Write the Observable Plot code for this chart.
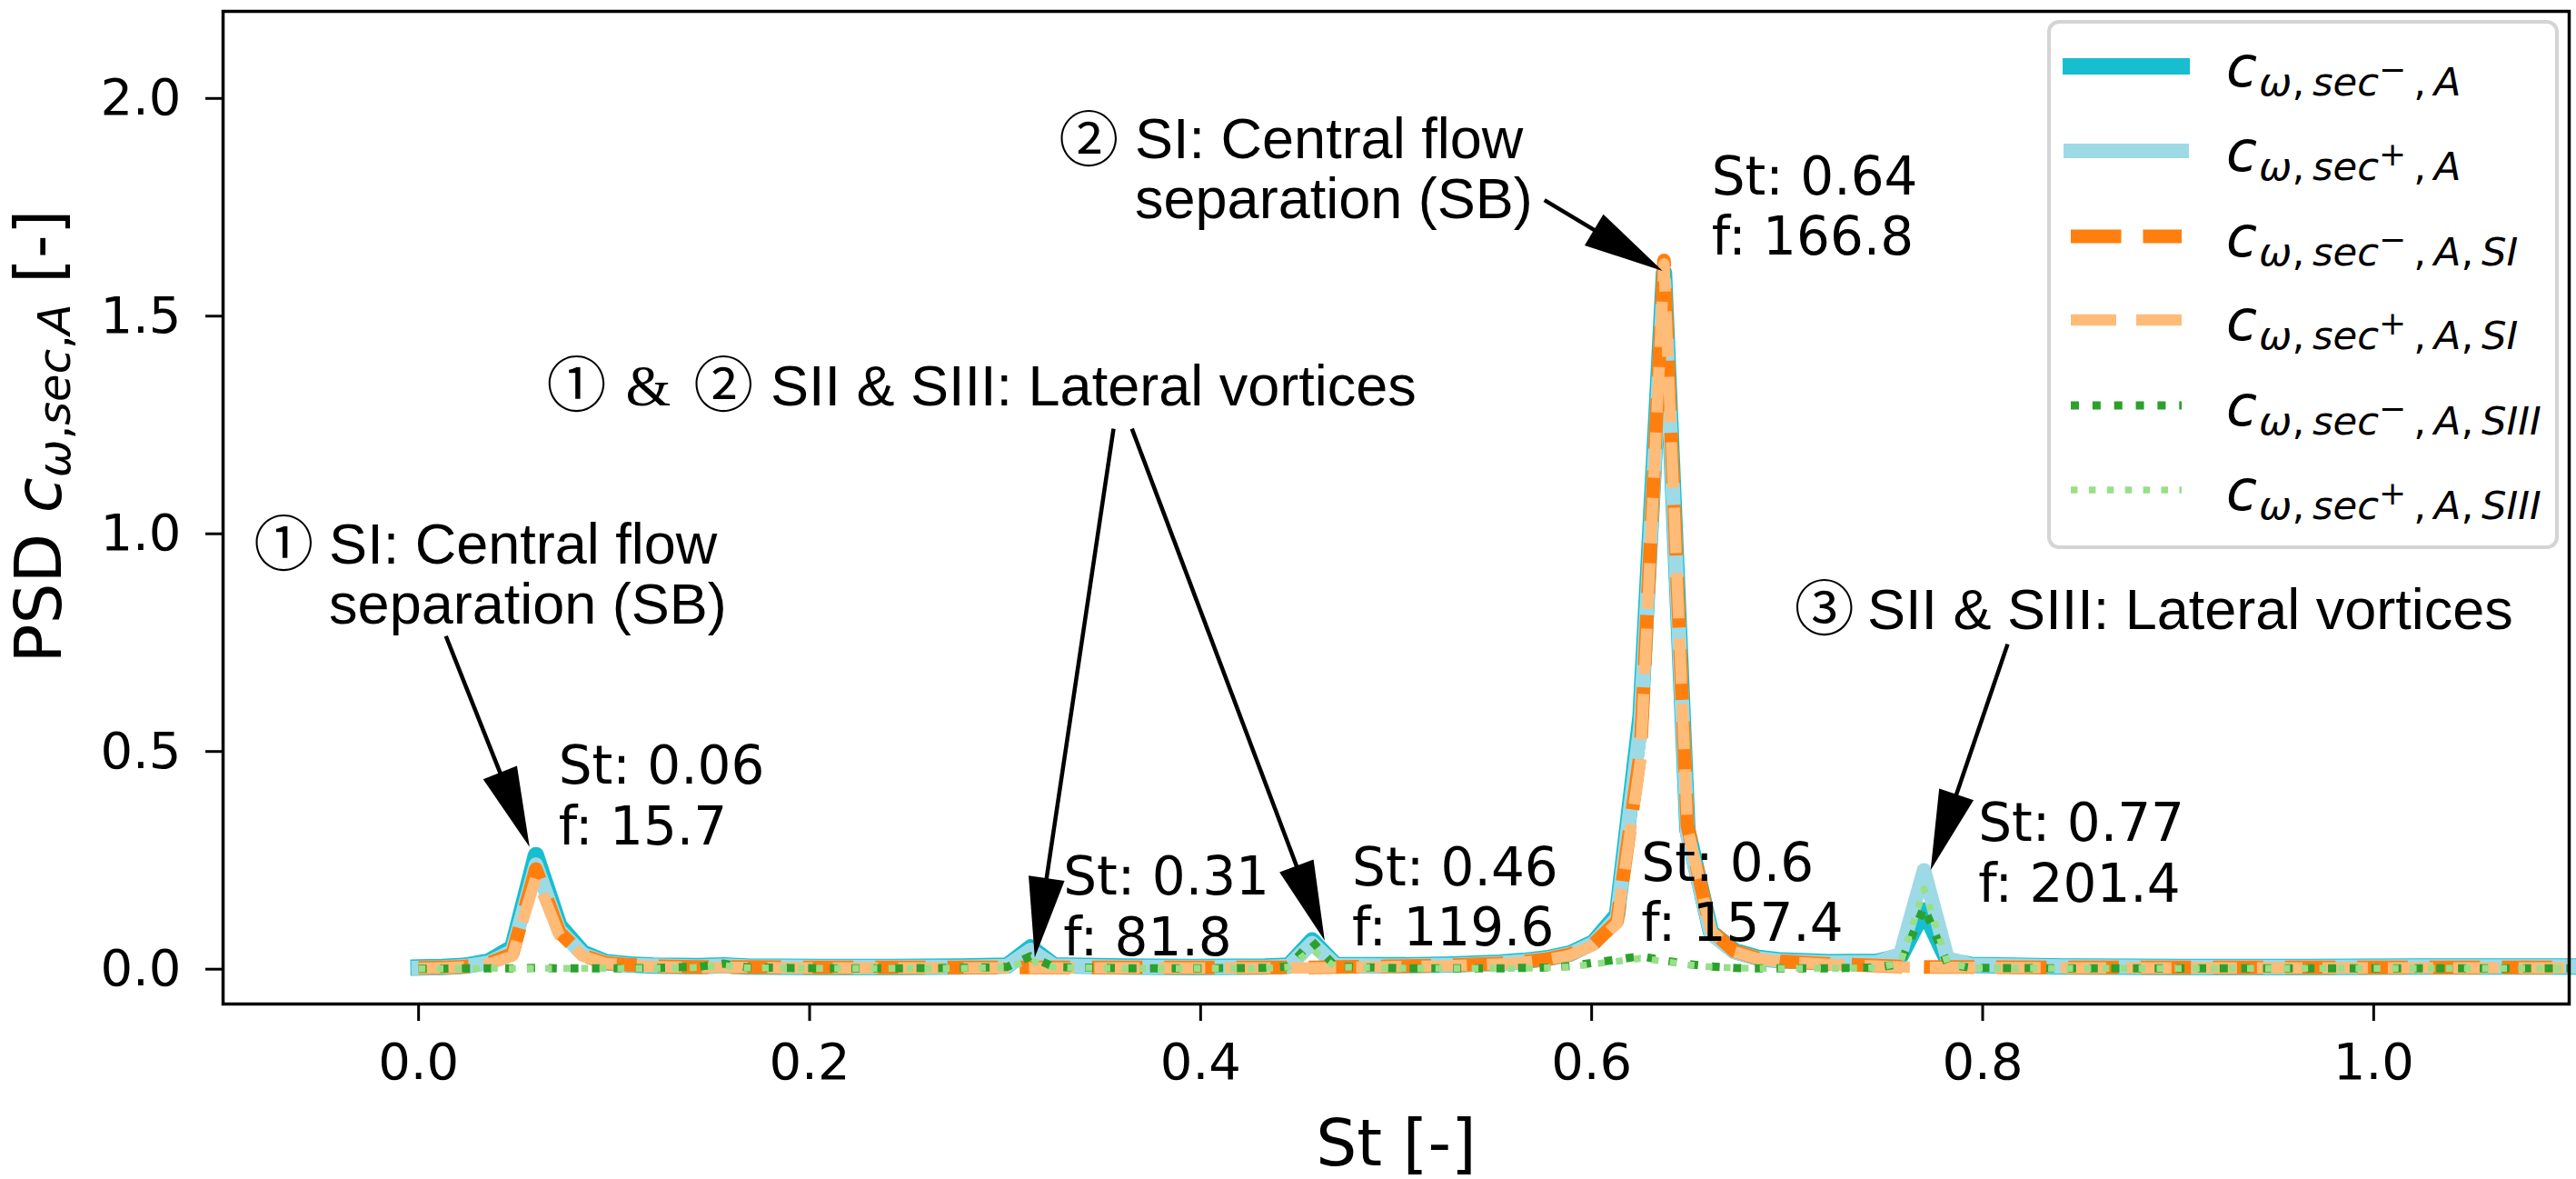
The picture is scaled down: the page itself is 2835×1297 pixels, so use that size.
<!DOCTYPE html>
<html>
<head>
<meta charset="utf-8">
<script src="https://cdn.jsdelivr.net/npm/d3@7"></script>
<script src="https://cdn.jsdelivr.net/npm/@observablehq/plot@0.6"></script>
<style>
html, body { margin: 0; padding: 0; background: #fff; }
#wrap { position: relative; width: 2835px; height: 1297px; }
#wrap svg.overlay { position: absolute; left: 0; top: 0; pointer-events: none; }
</style>
</head>
<body>
<div id="wrap"></div>
<script>
// ---------------- data ----------------
const st = [0.000, 0.012, 0.024, 0.036, 0.048, 0.060, 0.072, 0.084, 0.096, 0.108,
            0.120, 0.144, 0.156, 0.168, 0.204, 0.241, 0.277, 0.301, 0.313, 0.325,
            0.361, 0.397, 0.433, 0.445, 0.457, 0.469, 0.505, 0.529, 0.553, 0.565,
            0.577, 0.589, 0.601, 0.613, 0.625, 0.637, 0.649, 0.661, 0.673, 0.685,
            0.697, 0.722, 0.746, 0.758, 0.770, 0.782, 0.794, 0.842, 0.902, 0.962,
            1.022, 1.100];

const secMinusA = [0.004, 0.005, 0.008, 0.018, 0.050, 0.262, 0.100, 0.038, 0.016, 0.011,
                   0.008, 0.007, 0.009, 0.006, 0.005, 0.005, 0.006, 0.008, 0.050, 0.009,
                   0.006, 0.005, 0.006, 0.008, 0.066, 0.010, 0.009, 0.011, 0.015, 0.019,
                   0.025, 0.036, 0.062, 0.125, 0.580, 1.600, 0.320, 0.085, 0.042, 0.026,
                   0.020, 0.016, 0.017, 0.030, 0.135, 0.020, 0.010, 0.006, 0.005, 0.005,
                   0.006, 0.006];

const secPlusA = [0.003, 0.004, 0.007, 0.015, 0.042, 0.240, 0.090, 0.034, 0.015, 0.010,
                  0.008, 0.006, 0.008, 0.006, 0.005, 0.005, 0.005, 0.007, 0.044, 0.008,
                  0.005, 0.005, 0.005, 0.007, 0.060, 0.009, 0.008, 0.010, 0.014, 0.018,
                  0.024, 0.035, 0.060, 0.118, 0.560, 1.580, 0.310, 0.082, 0.040, 0.025,
                  0.019, 0.015, 0.016, 0.035, 0.227, 0.025, 0.010, 0.006, 0.005, 0.005,
                  0.006, 0.006];

const secMinusASI = [0.003, 0.004, 0.006, 0.014, 0.035, 0.230, 0.085, 0.032, 0.014, 0.010,
                     0.007, 0.005, 0.005, 0.005, 0.004, 0.004, 0.004, 0.004, 0.004, 0.004,
                     0.004, 0.004, 0.004, 0.004, 0.004, 0.005, 0.007, 0.009, 0.013, 0.017,
                     0.023, 0.034, 0.058, 0.110, 0.500, 1.628, 0.330, 0.090, 0.042, 0.025,
                     0.018, 0.012, 0.008, 0.006, 0.005, 0.005, 0.005, 0.004, 0.004, 0.004,
                     0.004, 0.004];

const secPlusASI = [0.002, 0.003, 0.005, 0.012, 0.030, 0.212, 0.078, 0.030, 0.013, 0.009,
                    0.006, 0.004, 0.004, 0.004, 0.003, 0.003, 0.003, 0.003, 0.003, 0.003,
                    0.003, 0.003, 0.003, 0.003, 0.003, 0.004, 0.006, 0.008, 0.012, 0.016,
                    0.022, 0.032, 0.055, 0.105, 0.480, 1.620, 0.325, 0.088, 0.040, 0.024,
                    0.017, 0.011, 0.007, 0.005, 0.004, 0.004, 0.004, 0.003, 0.003, 0.003,
                    0.003, 0.003];

const secMinusASIII = [0.001, 0.001, 0.002, 0.002, 0.002, 0.003, 0.002, 0.002, 0.002, 0.002,
                       0.003, 0.006, 0.013, 0.004, 0.002, 0.002, 0.003, 0.005, 0.030, 0.005,
                       0.002, 0.002, 0.003, 0.006, 0.064, 0.006, 0.002, 0.002, 0.002, 0.003,
                       0.004, 0.007, 0.015, 0.022, 0.030, 0.020, 0.012, 0.006, 0.003, 0.002,
                       0.002, 0.002, 0.004, 0.012, 0.143, 0.012, 0.003, 0.002, 0.002, 0.002,
                       0.002, 0.002];

const secPlusASIII = [0.001, 0.001, 0.001, 0.002, 0.002, 0.002, 0.002, 0.002, 0.002, 0.002,
                      0.002, 0.004, 0.008, 0.003, 0.002, 0.002, 0.002, 0.004, 0.020, 0.004,
                      0.002, 0.002, 0.002, 0.005, 0.045, 0.005, 0.002, 0.002, 0.002, 0.002,
                      0.003, 0.005, 0.012, 0.018, 0.025, 0.018, 0.010, 0.005, 0.003, 0.002,
                      0.002, 0.002, 0.003, 0.015, 0.185, 0.015, 0.003, 0.002, 0.002, 0.002,
                      0.002, 0.002];

const seriesSup = ["−", "+", "−", "+", "−", "+"];
const seriesSuffix = ["", "", "SI", "SI", "SIII", "SIII"];
const seriesValues = [secMinusA, secPlusA, secMinusASI, secPlusASI, secMinusASIII, secPlusASIII];

const peakSt = [0.06, 0.31, 0.46, 0.6, 0.64, 0.77];
const peakF = [15.7, 81.8, 119.6, 157.4, 166.8, 201.4];

const xTicks = [0.0, 0.2, 0.4, 0.6, 0.8, 1.0];
const yTicks = [0.0, 0.5, 1.0, 1.5, 2.0];

// ---------------- styles & layout ----------------
const seriesStyle = [
  {stroke: "#17becf", width: 18,   dash: null,     cap: "square"},
  {stroke: "#9edae5", width: 16,   dash: null,     cap: "square"},
  {stroke: "#ff7f0e", width: 15,   dash: "55.5,24", cap: "butt"},
  {stroke: "#ffbb78", width: 12.5, dash: "50,22",  cap: "butt"},
  {stroke: "#2ca02c", width: 9,    dash: "9,14.85", cap: "butt"},
  {stroke: "#98df8a", width: 7.5,  dash: "7.5,12.4", cap: "butt"}
];

// annotation anchors (data coordinates)
const peakLabelPos = [
  [0.0716, 0.2863], [0.3298, 0.0324], [0.4775, 0.0539],
  [0.6254, 0.0645], [0.6614, 1.641], [0.7978, 0.1556]
];
const descTexts = [
  {x: -0.0458, y: 0.7946, text: "SI: Central flow\nseparation (SB)"},
  {x: 0.3664, y: 1.7258, text: "SI: Central flow\nseparation (SB)"},
  {x: 0.1800, y: 1.2957, text: "SII & SIII: Lateral vortices"},
  {x: 0.7410, y: 0.7820, text: "SII & SIII: Lateral vortices"}
];
const circled = [
  {x: -0.0690, y: 0.972, text: "①"},
  {x: 0.3428, y: 1.901, text: "②"},
  {x: 0.0808, y: 1.337, text: "①"},
  {x: 0.1560, y: 1.337, text: "②"},
  {x: 0.7190, y: 0.824, text: "③"}
];
const amps = [{x: 0.1175, y: 1.337, text: "&"}];
const arrows = [
  {from: [0.0142, 0.764], to: [0.0570, 0.2796]},
  {from: [0.5761, 1.7655], to: [0.6365, 1.6027]},
  {from: [0.3557, 1.2404], to: [0.3154, 0.0261]},
  {from: [0.3651, 1.2404], to: [0.4637, 0.0645]},
  {from: [0.8130, 0.7455], to: [0.7736, 0.2266]}
];

// ---------------- build ----------------
const tables = seriesValues.map(vals => st.map((s, i) => ({st: s, v: vals[i]})));
const peakLabels = peakSt.map((s, i) => ({
  x: peakLabelPos[i][0], y: peakLabelPos[i][1],
  text: `St: ${s}\nf: ${peakF[i]}`
}));

const arrowMark = (index, scales) => {
  const ns = "http://www.w3.org/2000/svg";
  const g = document.createElementNS(ns, "g");
  for (const a of arrows) {
    const x1 = scales.x(a.from[0]), y1 = scales.y(a.from[1]);
    const x2 = scales.x(a.to[0]), y2 = scales.y(a.to[1]);
    const dx = x2 - x1, dy = y2 - y1, L = Math.hypot(dx, dy);
    const ux = dx / L, uy = dy / L;
    const hl = 88, hw = 20;
    const bx = x2 - ux * hl, by = y2 - uy * hl;
    const line = document.createElementNS(ns, "line");
    line.setAttribute("x1", x1); line.setAttribute("y1", y1);
    line.setAttribute("x2", bx + ux * 4); line.setAttribute("y2", by + uy * 4);
    line.setAttribute("stroke", "black"); line.setAttribute("stroke-width", 4.5);
    g.appendChild(line);
    const poly = document.createElementNS(ns, "polygon");
    poly.setAttribute("points", `${x2},${y2} ${bx - uy * hw},${by + ux * hw} ${bx + uy * hw},${by - ux * hw}`);
    poly.setAttribute("fill", "black");
    g.appendChild(poly);
  }
  return g;
};

const plot = Plot.plot({
  width: 2835,
  height: 1297,
  marginLeft: 245,
  marginRight: 8,
  marginTop: 12,
  marginBottom: 193,
  style: {fontFamily: "DejaVu Sans", fontSize: "56px", color: "black", background: "white"},
  x: {domain: [-0.1, 1.1]},
  y: {domain: [-0.08, 2.2]},
  marks: [
    ...tables.map((t, i) => Plot.line(t, {
      x: "st", y: "v",
      stroke: seriesStyle[i].stroke,
      strokeWidth: seriesStyle[i].width,
      strokeDasharray: seriesStyle[i].dash,
      strokeLinecap: seriesStyle[i].cap,
      strokeLinejoin: "round"
    })),
    Plot.frame({stroke: "black", strokeWidth: 3.5}),
    Plot.axisX({ticks: xTicks, tickFormat: d => d.toFixed(1), tickSize: 19, tickPadding: 24,
                strokeWidth: 3, fontSize: 56, label: null}),
    Plot.axisY({ticks: yTicks, tickFormat: d => d.toFixed(1), tickSize: 19, tickPadding: 27,
                strokeWidth: 3, fontSize: 56, label: null}),
    Plot.text(["St [-]"], {frameAnchor: "bottom", text: d => d, dy: 177, lineAnchor: "bottom",
                           fontSize: 71, fontFamily: "DejaVu Sans"}),
    Plot.text(peakLabels, {x: "x", y: "y", text: "text", textAnchor: "start", lineAnchor: "bottom",
                           lineHeight: 1.15, fontSize: 58, fontFamily: "DejaVu Sans"}),
    Plot.text(descTexts, {x: "x", y: "y", text: "text", textAnchor: "start", lineAnchor: "bottom",
                          lineHeight: 1.04, fontSize: 63, fontFamily: "Liberation Sans"}),
    Plot.text(circled, {x: "x", y: "y", text: "text", textAnchor: "middle", lineAnchor: "middle",
                        fontSize: 66, fontFamily: "Noto Sans CJK JP"}),
    Plot.text(amps, {x: "x", y: "y", text: "text", textAnchor: "middle", lineAnchor: "middle",
                     fontSize: 64, fontFamily: "Liberation Serif"}),
    arrowMark
  ]
});

const wrap = document.getElementById("wrap");
wrap.appendChild(plot);

// ---------------- overlay: legend + y label ----------------
const ns = "http://www.w3.org/2000/svg";
const ov = document.createElementNS(ns, "svg");
ov.setAttribute("class", "overlay");
ov.setAttribute("width", 2835);
ov.setAttribute("height", 1297);
ov.setAttribute("font-family", "DejaVu Sans");
wrap.appendChild(ov);

function el(tag, attrs, parent) {
  const e = document.createElementNS(ns, tag);
  for (const k in attrs) e.setAttribute(k, attrs[k]);
  if (parent) parent.appendChild(e);
  return e;
}
function tspan(parent, txt, attrs) {
  const t = el("tspan", attrs || {}, parent);
  t.textContent = txt;
  return t;
}

// legend box
el("rect", {x: 2255, y: 24, width: 559, height: 578, rx: 11, fill: "white", "fill-opacity": 0.8,
            stroke: "#d4d4d4", "stroke-width": 4}, ov);
const rowY = [73, 166, 260, 352, 446, 539];
seriesStyle.forEach((s, i) => {
  const y = rowY[i];
  const attrs = {x1: 2279, x2: 2401, y1: y, y2: y, stroke: s.stroke, "stroke-width": s.width,
                 "stroke-linecap": s.cap};
  if (s.dash) attrs["stroke-dasharray"] = s.dash;
  el("line", attrs, ov);
  const t = el("text", {x: 2450, y: y + 22, fill: "black"}, ov);
  const sub = 43.4;
  tspan(t, "c", {"font-size": 62, "font-style": "italic"});
  tspan(t, "ω", {"font-size": sub, "font-style": "italic", dy: 10, dx: 2});
  tspan(t, ",\u2009", {"font-size": sub});
  tspan(t, "sec", {"font-size": sub, "font-style": "italic"});
  tspan(t, seriesSup[i], {"font-size": 36, dy: -16});
  tspan(t, ",\u2009", {"font-size": sub, dy: 16, dx: 8});
  tspan(t, "A", {"font-size": sub, "font-style": "italic"});
  if (seriesSuffix[i]) {
    tspan(t, ",\u2009", {"font-size": sub});
    tspan(t, seriesSuffix[i], {"font-size": sub, "font-style": "italic"});
  }
});

// y label
const yl = el("text", {transform: "translate(67,480) rotate(-90)", "text-anchor": "middle",
                       "font-size": 71, fill: "black"}, ov);
tspan(yl, "PSD ");
tspan(yl, "c", {"font-style": "italic"});
tspan(yl, "ω", {"font-size": 49.7, "font-style": "italic", dy: 10});
tspan(yl, ",", {"font-size": 49.7});
tspan(yl, "sec", {"font-size": 49.7, "font-style": "italic"});
tspan(yl, ",", {"font-size": 49.7});
tspan(yl, "A", {"font-size": 49.7, "font-style": "italic"});
tspan(yl, " [-]", {dy: -10});
</script>
</body>
</html>
